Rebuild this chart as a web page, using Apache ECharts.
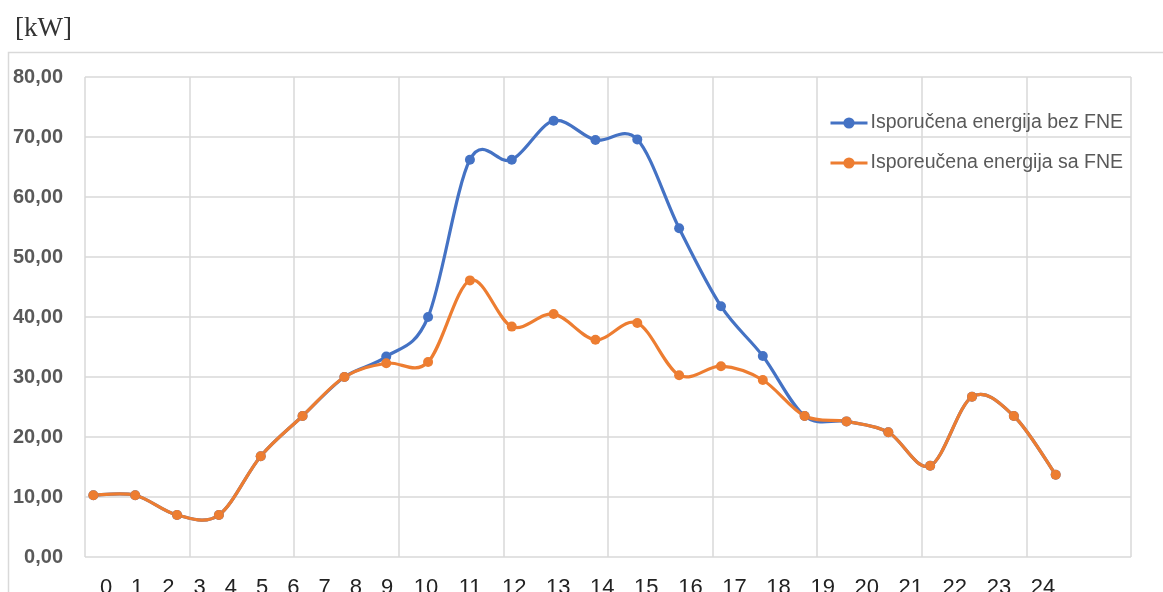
<!DOCTYPE html>
<html>
<head>
<meta charset="utf-8">
<script src="https://cdn.jsdelivr.net/npm/echarts@6/dist/echarts.min.js"></script>
<style>html,body{margin:0;padding:0;background:#fff}#c{width:1163px;height:592px}</style>
</head>
<body>
<div id="c"></div>
<script>
// Hours (x values of the points)
const hours = [0,1,2,3,4,5,6,7,8,9,10,11,12,13,14,15,16,17,18,19,20,21,22,23];
// Isporučena energija bez FNE [kW]
const bezFNE = [10.3,10.3,7.0,7.0,16.8,23.5,30.0,33.4,40.0,66.2,66.2,72.7,69.5,69.6,54.8,41.8,33.5,23.5,22.6,20.8,15.2,26.7,23.5,13.7];
// Isporeučena energija sa FNE [kW]
const saFNE  = [10.3,10.3,7.0,7.0,16.8,23.5,30.0,32.3,32.5,46.1,38.4,40.5,36.2,39.0,30.3,31.8,29.5,23.5,22.6,20.8,15.2,26.7,23.5,13.7];
// Tick labels under the chart
const xLabelsA = ['0','1','2','3','4','5','6','7','8','9'];
const xLabelsB = ['10','11','12','13','14','15','16','17','18','19','20','21','22','23','24'];
const seriesNames = ['Isporučena energija bez FNE', 'Isporeučena energija sa FNE'];
const colors = ['#4472C4', '#ED7D31'];

const grid = '#d9d9d9';

// Smoothed segment (Excel-like smoothing) drawn through the axes' scales
function curve(vals, color) {
  return function (params, api) {
    const i = params.dataIndex, n = vals.length;
    if (i >= n - 1) return null;
    const c = j => { j = Math.max(0, Math.min(n - 1, j)); return api.coord([hours[j], vals[j]]); };
    const p0 = c(i - 1), p1 = c(i), p2 = c(i + 1), p3 = c(i + 2);
    return {
      type: 'bezierCurve',
      shape: {
        x1: p1[0], y1: p1[1], x2: p2[0], y2: p2[1],
        cpx1: p1[0] + (p2[0] - p0[0]) / 6, cpy1: p1[1] + (p2[1] - p0[1]) / 6,
        cpx2: p2[0] - (p3[0] - p1[0]) / 6, cpy2: p2[1] - (p3[1] - p1[1]) / 6
      },
      style: {stroke: color, lineWidth: 3.2, fill: null, lineCap: 'round'}
    };
  };
}

const chart = echarts.init(document.getElementById('c'));
chart.setOption({
  animation: false,
  title: {
    text: '[kW]', left: 10, top: 10,
    textStyle: {fontFamily: 'Liberation Serif', fontWeight: 'normal', fontSize: 27, color: '#333'}
  },
  graphic: [{
    type: 'rect', shape: {x: 8.5, y: 52.5, width: 1300, height: 700},
    style: {fill: 'none', stroke: grid, lineWidth: 1.5}, silent: true, z: -1
  }],
  legend: {
    orient: 'vertical', left: 824, top: 108,
    itemWidth: 37, itemHeight: 14, itemGap: 20,
    textStyle: {fontFamily: 'Liberation Sans', fontSize: 19.5, color: '#595959', padding: [0,0,0,-2]},
    data: seriesNames.map((nm, k) => ({name: nm, lineStyle: {width: 3, color: colors[k], opacity: 1}}))
  },
  grid: [
    {left: 85, right: 32, top: 77, bottom: 35},
    {left: 106, width: 281, top: 577, height: 1},
    {left: 426, width: 617, top: 577, height: 1}
  ],
  xAxis: [
    {type: 'value', gridIndex: 0, min: -0.2, max: 24.8, show: false},
    {type: 'value', gridIndex: 0, min: 0, max: 10, interval: 1,
     axisLine: {show: false}, axisTick: {show: false}, axisLabel: {show: false},
     splitLine: {show: true, lineStyle: {color: grid, width: 1.5}}},
    {type: 'category', gridIndex: 1, data: xLabelsA, boundaryGap: false,
     axisLine: {show: false}, axisTick: {show: false},
     axisLabel: {interval: 0, margin: 0, fontFamily: 'Liberation Sans', fontSize: 22, color: '#222'}},
    {type: 'category', gridIndex: 2, data: xLabelsB, boundaryGap: false,
     axisLine: {show: false}, axisTick: {show: false},
     axisLabel: {interval: 0, margin: 0, fontFamily: 'Liberation Sans', fontSize: 22, color: '#222'}}
  ],
  yAxis: [
    {type: 'value', gridIndex: 0, min: 0, max: 80, interval: 10,
     axisLine: {show: false}, axisTick: {show: false},
     axisLabel: {margin: 22, fontFamily: 'Liberation Sans', fontWeight: 'bold', fontSize: 20, color: '#595959',
       formatter: v => v.toFixed(2).replace('.', ',')},
     splitLine: {lineStyle: {color: grid, width: 1.5}}},
    {type: 'value', gridIndex: 1, show: false},
    {type: 'value', gridIndex: 2, show: false}
  ],
  series: [
    {type: 'custom', xAxisIndex: 0, yAxisIndex: 0, renderItem: curve(bezFNE, colors[0]),
     data: hours.map((h, i) => [h, bezFNE[i]]), z: 2, silent: true},
    {type: 'custom', xAxisIndex: 0, yAxisIndex: 0, renderItem: curve(saFNE, colors[1]),
     data: hours.map((h, i) => [h, saFNE[i]]), z: 3, silent: true},
    {name: seriesNames[0], type: 'line', xAxisIndex: 0, yAxisIndex: 0,
     data: hours.map((h, i) => [h, bezFNE[i]]),
     symbol: 'circle', symbolSize: 10,
     itemStyle: {color: colors[0]}, lineStyle: {color: colors[0], width: 0, opacity: 0}, z: 4},
    {name: seriesNames[1], type: 'line', xAxisIndex: 0, yAxisIndex: 0,
     data: hours.map((h, i) => [h, saFNE[i]]),
     symbol: 'circle', symbolSize: 10,
     itemStyle: {color: colors[1]}, lineStyle: {color: colors[1], width: 0, opacity: 0}, z: 5}
  ]
});
</script>
</body>
</html>
